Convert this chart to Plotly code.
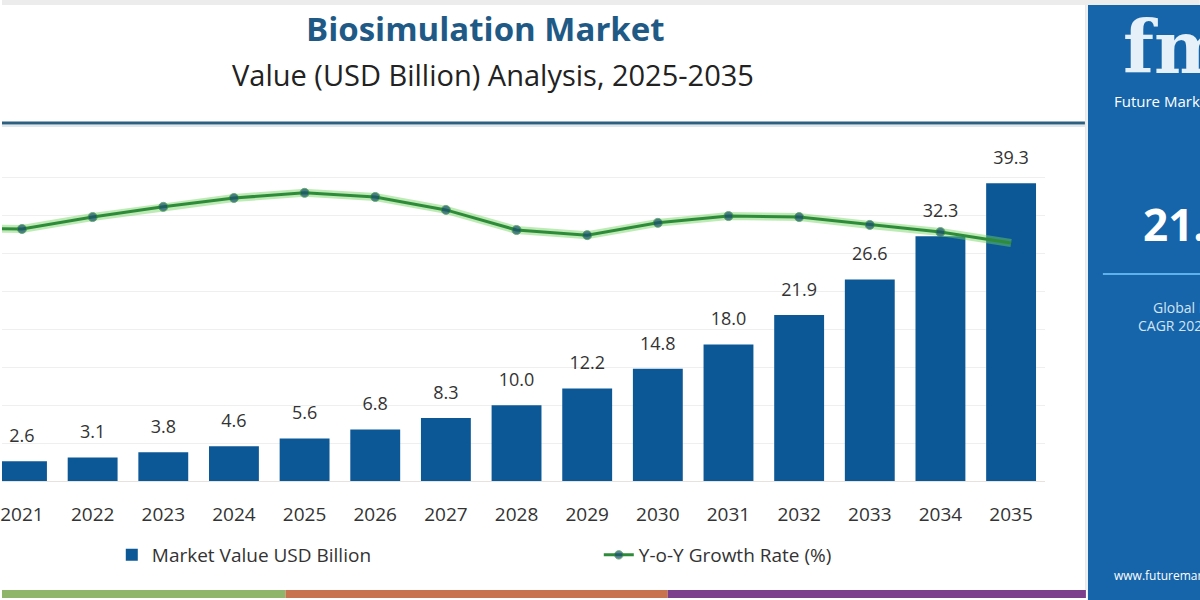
import plotly.graph_objects as go

years = [2021, 2022, 2023, 2024, 2025, 2026, 2027, 2028, 2029, 2030, 2031, 2032, 2033, 2034, 2035]
market_value = [2.6, 3.1, 3.8, 4.6, 5.6, 6.8, 8.3, 10.0, 12.2, 14.8, 18.0, 21.9, 26.6, 32.3, 39.3]
tick_labels = [str(y) for y in years]

# growth line starts one year earlier (cropped off the left edge in the source)
growth_years = [2020] + years
growth_rate = [21.42, 21.39, 21.74, 22.04, 22.30, 22.45, 22.33, 21.95, 21.36,
               21.21, 21.57, 21.77, 21.74, 21.51, 21.30, 20.98]

FONT = "Open Sans"
BAR_BLUE = "#0c5897"
W, H = 1200, 600
L, R, T, B = 0, 155, 140, 119
PW, PH = W - L - R, H - T - B


# pixel -> paper helpers for the decorations
def px(x):
    return (x - L) / PW


def py(y):
    return (H - B - y) / PH


def note(text, x, y, size, color, xanchor="left", family=FONT):
    return dict(text=text, x=px(x), y=py(y), xref="paper", yref="paper",
                xanchor=xanchor, yanchor="middle", showarrow=False,
                font=dict(family=family, size=size, color=color))


fig = go.Figure()

fig.add_trace(go.Bar(x=years, y=market_value, width=0.706,
                     marker=dict(color=BAR_BLUE, line=dict(width=0)),
                     name="Market Value USD Billion", hoverinfo="x+y"))

# value labels above the bars
fig.add_trace(go.Scatter(x=years, y=market_value, mode="markers+text",
                         text=[f"{v:.1f}" for v in market_value],
                         textposition="top center",
                         textfont=dict(family=FONT, size=18, color="#333333"),
                         marker=dict(size=22, opacity=0),
                         showlegend=False, hoverinfo="skip", cliponaxis=False))

# soft glow under the growth line
fig.add_trace(go.Scatter(x=growth_years, y=growth_rate, yaxis="y2", mode="lines",
                         line=dict(color="rgba(110,210,90,0.45)", width=8),
                         showlegend=False, hoverinfo="skip"))

marker_sizes = [9] * (len(growth_years) - 1) + [0]
fig.add_trace(go.Scatter(x=growth_years, y=growth_rate, yaxis="y2", mode="lines+markers",
                         line=dict(color="#2e8b3a", width=3),
                         marker=dict(color="#164e6e", size=marker_sizes),
                         name="Y-o-Y Growth Rate (%)"))

shapes = [
    # light strip at very top
    dict(type="rect", xref="paper", yref="paper", x0=px(0), x1=px(1200), y0=py(5), y1=py(0),
         fillcolor="#ececec", line=dict(width=0), layer="below"),
    # header rule
    dict(type="line", xref="paper", yref="paper", x0=px(0), x1=px(1085), y0=py(123), y1=py(123),
         line=dict(color="#2c5f80", width=3)),
    dict(type="line", xref="paper", yref="paper", x0=px(0), x1=px(1085), y0=py(126), y1=py(126),
         line=dict(color="rgba(44,95,128,0.15)", width=2)),
    # panel border
    dict(type="line", xref="paper", yref="paper", x0=px(1086), x1=px(1086), y0=py(5), y1=py(590),
         line=dict(color="#d8d8d8", width=1)),
    # right blue panel
    dict(type="rect", xref="paper", yref="paper", x0=px(1088), x1=px(1205), y0=py(600), y1=py(5),
         fillcolor="#1665aa", line=dict(width=0)),
    dict(type="line", xref="paper", yref="paper", x0=px(1103), x1=px(1205), y0=py(274), y1=py(274),
         line=dict(color="#5eb2ea", width=2)),
    # bottom colour stripes
    dict(type="rect", xref="paper", yref="paper", x0=px(0), x1=px(284), y0=py(598), y1=py(590),
         fillcolor="#8fb56a", line=dict(width=0)),
    dict(type="rect", xref="paper", yref="paper", x0=px(284), x1=px(667), y0=py(598), y1=py(590),
         fillcolor="#c8734e", line=dict(width=0)),
    dict(type="rect", xref="paper", yref="paper", x0=px(667), x1=px(1086), y0=py(598), y1=py(590),
         fillcolor="#7b3f8c", line=dict(width=0)),
]

annotations = [
    note("<b>Biosimulation Market</b>", 484, 28, 33, "#1f5a86", xanchor="center"),
    note("Value (USD Billion) Analysis, 2025-2035", 492, 75, 29, "#222222", xanchor="center"),
    note("<b>fmi</b>", 1121, 47, 72, "#e6f0f8", family="DejaVu Serif"),
    note("Future Market Insights", 1112, 101, 15, "#ffffff"),
    note("<b>21.5%</b>", 1141, 224, 44, "#ffffff"),
    note("Global Industry", 1151, 307, 14, "#d3e4f3"),
    note("CAGR 2025-2035", 1136, 325, 14, "#d3e4f3"),
    note("www.futuremarketinsights.com", 1112, 575, 12, "#ffffff"),
]

fig.update_layout(
    width=W, height=H,
    margin=dict(l=L, r=R, t=T, b=B, pad=0),
    paper_bgcolor="white", plot_bgcolor="white",
    font=dict(family=FONT, color="#333333"),
    xaxis=dict(range=[2020.717, 2035.48], tickvals=years, ticktext=tick_labels,
               showgrid=False, zeroline=False, showline=True, linecolor="#e8e2dc", linewidth=1,
               ticks="", ticklabelstandoff=16, ticklabeloverflow="allow",
               tickfont=dict(family=FONT, size=19, color="#333333"), fixedrange=True),
    yaxis=dict(range=[0, 45], dtick=5, showgrid=True, gridcolor="#efefef", gridwidth=1,
               zeroline=False, showticklabels=False, fixedrange=True),
    yaxis2=dict(range=[14, 24], overlaying="y", visible=False, fixedrange=True),
    bargap=0.29,
    showlegend=True,
    legend=dict(orientation="h", x=px(110), y=py(555), xanchor="left", yanchor="middle",
                entrywidth=442, font=dict(family=FONT, size=19, color="#333333"),
                bgcolor="rgba(0,0,0,0)", traceorder="normal"),
    shapes=shapes,
    annotations=annotations,
)

fig.write_html("out.html", config={"displayModeBar": False},
               post_script="document.body.style.margin='0';document.body.style.overflow='hidden';")
